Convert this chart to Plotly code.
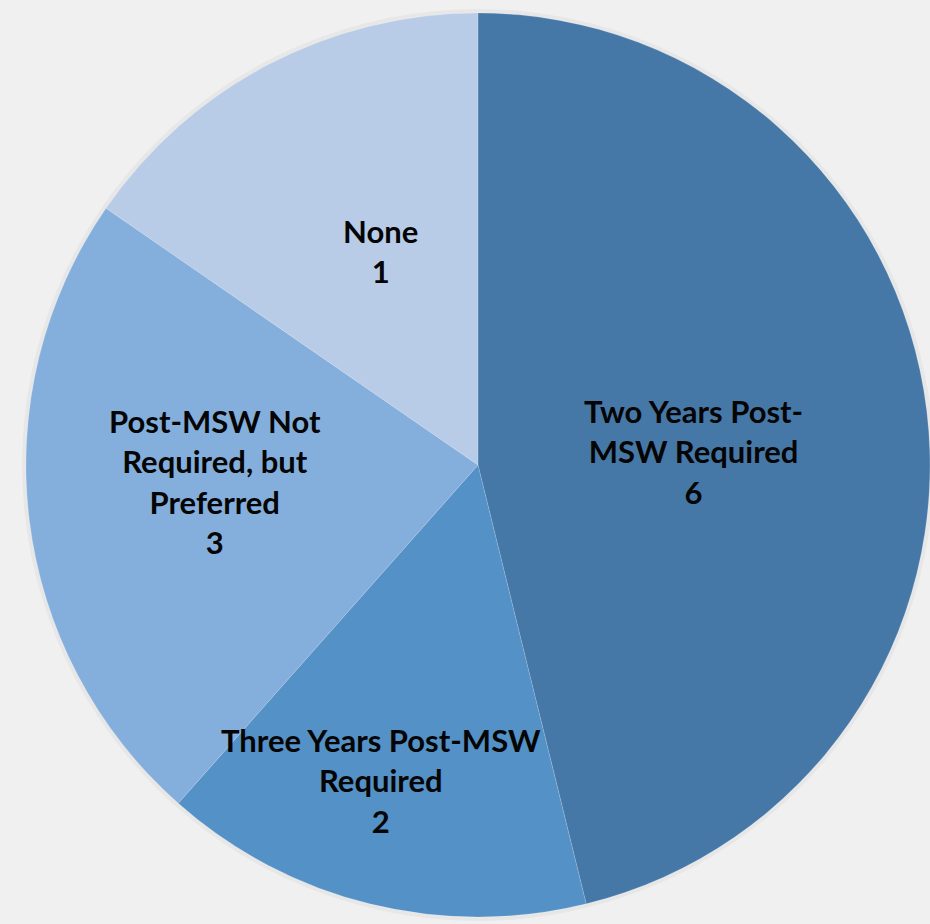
import math
import plotly.graph_objects as go

# Data
categories = ["Two Years Post-MSW Required", "Three Years Post-MSW Required",
              "Post-MSW Not Required, but Preferred", "None"]
# slice sizes
values = [6, 2, 3, 2]
# numbers printed on the labels
label_numbers = ["6", "2", "3", "1"]
label_lines = [
    "Two Years Post-<br>MSW Required",
    "Three Years Post-MSW<br>Required",
    "Post-MSW Not<br>Required, but<br>Preferred",
    "None",
]

colors = ["#4678a7", "#5491c7", "#84afdc", "#b8cce8"]

W, H = 930, 924
# pie placement (pixels)
cx, cy, R = 478, 465, 452
label_radius = [0.477, 0.731, 0.582, 0.52]
label_angle_shift = 3.3  # degrees

fig = go.Figure(go.Pie(
    labels=categories,
    values=values,
    sort=False,
    direction="clockwise",
    rotation=0,
    marker=dict(colors=colors, line=dict(color="rgba(255,255,255,0.25)", width=0.6)),
    textinfo="none",
    hoverinfo="label+value",
    showlegend=False,
    domain=dict(x=[(cx - R) / W, (cx + R) / W], y=[1 - (cy + R) / H, 1 - (cy - R) / H]),
))

total = sum(values)
cum = 0
annotations = []
for i, v in enumerate(values):
    theta = 2 * math.pi * (cum + v / 2) / total + math.radians(label_angle_shift)
    cum += v
    px = cx + label_radius[i] * R * math.sin(theta)
    py = cy - label_radius[i] * R * math.cos(theta)
    annotations.append(dict(
        x=px / W, y=1 - py / H, xref="paper", yref="paper",
        text=f"<b>{label_lines[i]}<br>{label_numbers[i]}</b>",
        showarrow=False, align="center", xanchor="center", yanchor="middle",
        font=dict(family="Lato", size=31, color="#050505"),
    ))

# soft shadow behind the pie
shapes = [dict(
    type="circle", xref="paper", yref="paper", layer="below",
    x0=(cx - R - 4) / W, x1=(cx + R + 4) / W,
    y0=1 - (cy + R + 4) / H, y1=1 - (cy - R - 4) / H,
    fillcolor="rgba(0,0,0,0.035)", line=dict(width=0),
)]

fig.update_layout(
    width=W, height=H,
    margin=dict(l=0, r=0, t=0, b=0),
    paper_bgcolor="#f0f0f0",
    plot_bgcolor="#f0f0f0",
    annotations=annotations,
    shapes=shapes,
)

fig.write_html(
    "out.html",
    config={"displayModeBar": False},
    post_script="document.body.style.margin='0';document.body.style.overflow='hidden';",
)
